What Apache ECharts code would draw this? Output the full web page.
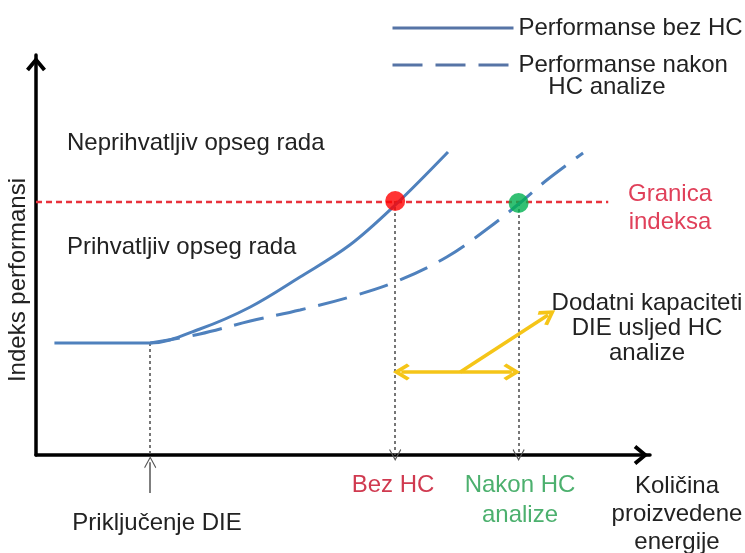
<!DOCTYPE html>
<html>
<head>
<meta charset="utf-8">
<script src="https://cdn.jsdelivr.net/npm/echarts@6/dist/echarts.min.js"></script>
<style>html,body{margin:0;padding:0;background:#fff}#c{width:745px;height:553px}</style>
</head>
<body>
<div id="c"></div>
<script>
// ---- data (axis units: x 0..100 energy, y 0..100 performance index) ----
const solidX  = [3, 10, 18.6, 26.7, 34.9, 43, 51.1, 58.5, 67.1];
const solidY  = [28, 28, 28, 31.5, 37, 44.5, 52.5, 62.5, 75.75];
const dashedX = [18.6, 26.7, 34.9, 43, 51.1, 58.5, 66.9, 73.9, 78.8, 83.2, 89.1];
const dashedY = [28, 30.25, 33.5, 36.25, 39.5, 43.25, 49.5, 57, 63, 68.75, 75.5];
const limitY = 63.25;
const limitX = [0, 93.2];
const crossX = [58.5, 78.6];
const crossY = [63.5, 63.0];
const connectX = 18.6;
const connectY = 28;
const gainY = 20.75;
const gainX = [59.5, 77.5];
const noteFrom = [69.1, 20.75];
const noteTo = [83.4, 35];
const connectArrowY = [-9.5, -1.8];

const seriesNames = ['Performanse bez HC', 'Performanse nakon'];

const FONT = '"Liberation Sans", Arial, sans-serif';
const FS = '24px ';
const blue = '#4f81bd';
const chevron = 'path://M10,0 L20,12 L17,14.5 L10,6 L3,14.5 L0,12 Z';
const thinChevron = 'path://M10,0 L20,12 L18.8,13 L10,2.6 L1.2,13 L0,12 Z';

const chart = echarts.init(document.getElementById('c'));
const zip = (xs, ys) => xs.map((x, i) => [x, ys[i]]);

chart.setOption({
  animation: false,
  grid: { left: 36, right: 95, top: 55, bottom: 98 },
  xAxis: {
    type: 'value', min: 0, max: 100,
    axisLine: { show: true, symbol: ['none', chevron], symbolSize: [20, 18], symbolOffset: [0, -9],
      lineStyle: { color: '#000', width: 3.5 } },
    axisTick: { show: false }, axisLabel: { show: false }, splitLine: { show: false }
  },
  yAxis: {
    type: 'value', min: 0, max: 100,
    axisLine: { show: true, symbol: ['none', chevron], symbolSize: [20, 18], symbolOffset: [0, -9],
      lineStyle: { color: '#000', width: 3.5 } },
    axisTick: { show: false }, axisLabel: { show: false }, splitLine: { show: false }
  },
  legend: {
    orient: 'vertical', left: 386, top: 10, itemWidth: 121, itemHeight: 26, itemGap: 11,
    data: seriesNames,
    itemStyle: { opacity: 0, color: 'rgba(0,0,0,0)', borderWidth: 0 },
    lineStyle: { color: '#5674a6', width: 3 },
    textStyle: { fontFamily: FONT, fontSize: 24, color: '#222', lineHeight: 26 },
    selectedMode: false
  },
  series: [
    {
      type: 'line', name: 'limit', data: zip(limitX, [limitY, limitY]), symbol: 'none', z: 2,
      lineStyle: { color: '#e8323c', width: 2.5, type: [6, 4] }
    },
    {
      type: 'line', name: seriesNames[0], data: zip(solidX, solidY), smooth: 0.35,
      symbol: 'none', z: 3, lineStyle: { color: blue, width: 3 }, itemStyle: { color: blue }
    },
    {
      type: 'line', name: seriesNames[1], data: zip(dashedX, dashedY), smooth: 0.35,
      symbol: 'none', z: 3, lineStyle: { color: blue, width: 3, type: [30, 13] }, itemStyle: { color: blue }
    },
    {
      type: 'lines', coordinateSystem: 'cartesian2d', z: 1, clip: false,
      symbol: 'none',
      lineStyle: { color: '#555', width: 1.6, type: [3, 3], opacity: 1 },
      data: [{ coords: [[connectX, connectY], [connectX, 0]] }]
    },
    {
      type: 'lines', coordinateSystem: 'cartesian2d', z: 1, clip: false,
      symbol: ['none', thinChevron], symbolSize: 12,
      lineStyle: { color: '#555', width: 1.6, type: [3, 3], opacity: 1 },
      data: crossX.map((x, i) => ({ coords: [[x, crossY[i]], [x, 0]] }))
    },
    {
      type: 'lines', coordinateSystem: 'cartesian2d', z: 1, clip: false,
      symbol: ['none', thinChevron], symbolSize: 12,
      lineStyle: { color: '#555', width: 1.5, type: 'solid', opacity: 1 },
      data: [{ coords: [[connectX, connectArrowY[0]], [connectX, connectArrowY[1]]] }]
    },
    {
      type: 'lines', coordinateSystem: 'cartesian2d', z: 4, clip: false,
      symbol: [chevron, chevron], symbolSize: 17,
      lineStyle: { color: '#f5c518', width: 3.5, type: 'solid', opacity: 1 },
      data: [{ coords: [[gainX[0], gainY], [gainX[1], gainY]] }]
    },
    {
      type: 'lines', coordinateSystem: 'cartesian2d', z: 4, clip: false,
      symbol: ['none', chevron], symbolSize: 17,
      lineStyle: { color: '#f5c518', width: 3.5, type: 'solid', opacity: 1 },
      data: [{ coords: [noteFrom, noteTo] }]
    },
    {
      type: 'scatter', z: 5, symbolSize: 20,
      data: [
        { value: [crossX[0], crossY[0]], itemStyle: { color: '#ff0000' } },
        { value: [crossX[1], crossY[1]], itemStyle: { color: '#00b050' } }
      ]
    }
  ],
  graphic: [
    { type: 'text', x: 607, y: 87, style: { text: 'HC analize', font: FS + FONT, fill: '#222', align: 'center', verticalAlign: 'middle' } },
    { type: 'text', x: 67, y: 143, style: { text: 'Neprihvatljiv opseg rada', font: FS + FONT, fill: '#222', align: 'left', verticalAlign: 'middle' } },
    { type: 'text', x: 67, y: 247, style: { text: 'Prihvatljiv opseg rada', font: FS + FONT, fill: '#222', align: 'left', verticalAlign: 'middle' } },
    { type: 'text', x: 18, y: 280, rotation: Math.PI / 2, style: { text: 'Indeks performansi', font: FS + FONT, fill: '#222', align: 'center', verticalAlign: 'middle' } },
    { type: 'text', x: 670, y: 208, style: { text: 'Granica\nindeksa', font: FS + FONT, lineHeight: 28, fill: '#e0405a', align: 'center', verticalAlign: 'middle' } },
    { type: 'text', x: 647, y: 328, style: { text: 'Dodatni kapaciteti\nDIE usljed HC\nanalize', font: FS + FONT, lineHeight: 25, fill: '#222', align: 'center', verticalAlign: 'middle' } },
    { type: 'text', x: 393, y: 485, style: { text: 'Bez HC', font: FS + FONT, fill: '#d03a50', align: 'center', verticalAlign: 'middle' } },
    { type: 'text', x: 520, y: 500, style: { text: 'Nakon HC\nanalize', font: FS + FONT, lineHeight: 30, fill: '#4cb06e', align: 'center', verticalAlign: 'middle' } },
    { type: 'text', x: 677, y: 514, style: { text: 'Količina\nproizvedene\nenergije', font: FS + FONT, lineHeight: 28, fill: '#222', align: 'center', verticalAlign: 'middle' } },
    { type: 'text', x: 157, y: 523, style: { text: 'Priključenje DIE', font: FS + FONT, fill: '#222', align: 'center', verticalAlign: 'middle' } }
  ]
});
</script>
</body>
</html>
